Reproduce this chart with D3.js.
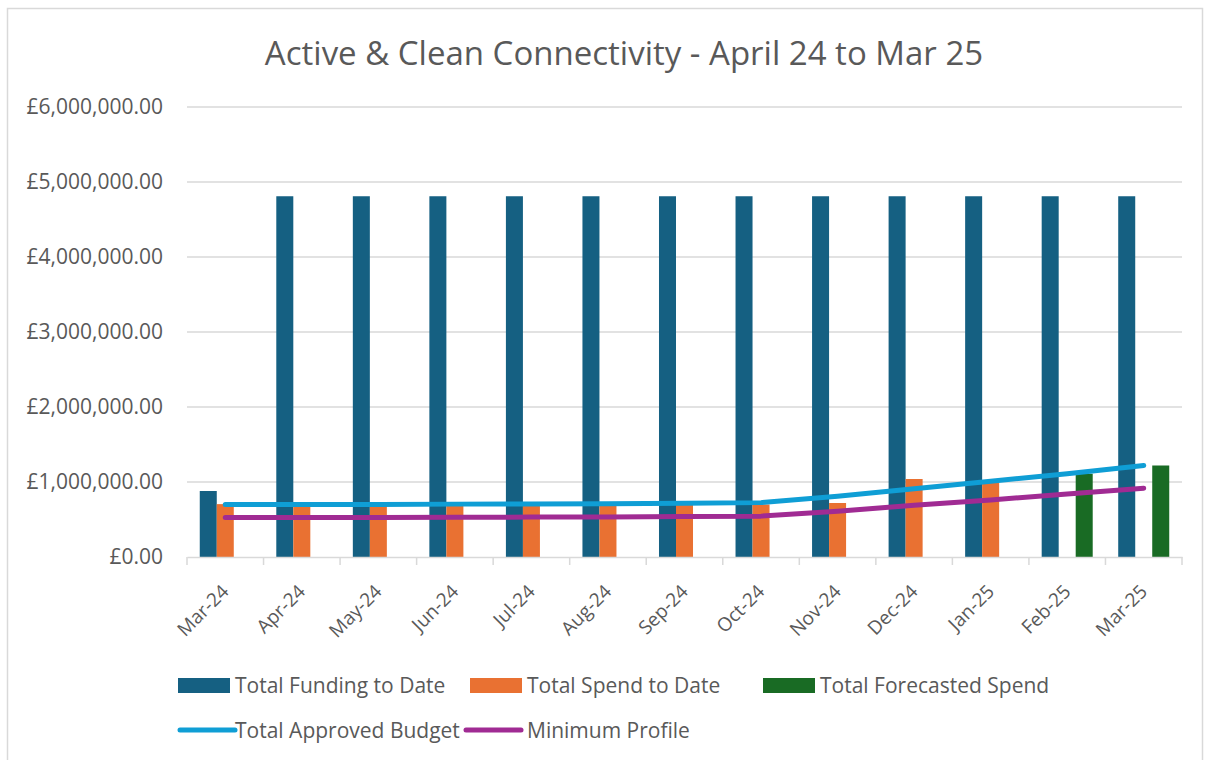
<!DOCTYPE html>
<html>
<head>
<meta charset="utf-8">
<script src="https://cdn.jsdelivr.net/npm/d3@7"></script>
<style>
  body { margin: 0; background: #fff; }
  text { font-family: "Open Sans", sans-serif; fill: #595959; }
</style>
</head>
<body>
<svg id="chart" width="1210" height="760"></svg>
<script>
// chart data
var months = ["Mar-24","Apr-24","May-24","Jun-24","Jul-24","Aug-24","Sep-24","Oct-24","Nov-24","Dec-24","Jan-25","Feb-25","Mar-25"];
var funding = [880000,4810000,4810000,4810000,4810000,4810000,4810000,4810000,4810000,4810000,4810000,4810000,4810000];
var spend = [705000,695000,695000,695000,695000,695000,700000,700000,720000,1040000,990000,null,null];
var forecast = [null,null,null,null,null,null,null,null,null,null,null,1110000,1220000];
var approved = [700000,700000,700000,705000,708000,710000,718000,725000,810000,910000,1010000,1110000,1220000];
var minProfile = [528000,528000,528000,530000,532000,535000,540000,545000,610000,690000,760000,840000,918000];
var yTicks = [0,1000000,2000000,3000000,4000000,5000000,6000000];

var barSeries = [
  {name: "Total Funding to Date", values: funding, color: "#156082"},
  {name: "Total Spend to Date", values: spend, color: "#E97132"},
  {name: "Total Forecasted Spend", values: forecast, color: "#196B24"}
];
var lineSeries = [
  {name: "Total Approved Budget", values: approved, color: "#0F9ED5"},
  {name: "Minimum Profile", values: minProfile, color: "#A02B93"}
];

var svg = d3.select("#chart");

// outer border
svg.append("rect")
  .attr("x", 7.5).attr("y", 8.5)
  .attr("width", 1195).attr("height", 770)
  .attr("fill", "none").attr("stroke", "#D9D9D9").attr("stroke-width", 1.5);

svg.append("text")
  .attr("x", 624).attr("y", 65)
  .attr("text-anchor", "middle")
  .style("font-size", "33px")
  .text("Active & Clean Connectivity - April 24 to Mar 25");

var plotLeft = 187, plotRight = 1182, plotTop = 107, plotBottom = 557;

var x = d3.scaleBand().domain(months).range([plotLeft, plotRight]).paddingInner(0).paddingOuter(0);
var xInner = d3.scaleBand().domain([0, 1, 2]).range([0, x.bandwidth()]).paddingOuter(0.75).paddingInner(0);
var y = d3.scaleLinear().domain([0, 6000000]).range([plotBottom, plotTop]);

// gridlines
svg.append("g").selectAll("line")
  .data(yTicks.slice(1))
  .enter().append("line")
  .attr("x1", plotLeft).attr("x2", plotRight)
  .attr("y1", d => y(d)).attr("y2", d => y(d))
  .attr("stroke", "#D9D9D9").attr("stroke-width", 1.5);

// y axis labels
var yAxis = d3.axisLeft(y).tickValues(yTicks).tickSize(0).tickPadding(24)
  .tickFormat(d => "£" + d3.format(",.2f")(d));
var yg = svg.append("g").attr("transform", "translate(" + plotLeft + ",0)").call(yAxis);
yg.select(".domain").remove();
yg.selectAll("text").style("font-size", "21px").attr("fill", "#595959");

// bars
barSeries.forEach(function (s, i) {
  svg.append("g").selectAll("rect")
    .data(months.map((m, j) => ({m: m, v: s.values[j]})).filter(d => d.v != null))
    .enter().append("rect")
    .attr("x", d => x(d.m) + xInner(i))
    .attr("width", xInner.bandwidth())
    .attr("y", d => y(d.v))
    .attr("height", d => plotBottom - y(d.v))
    .attr("fill", s.color);
});

// x axis
var xAxis = d3.axisBottom(x).tickSize(0).tickPadding(0);
var xg = svg.append("g").attr("transform", "translate(0," + plotBottom + ")").call(xAxis);
xg.select(".domain").attr("stroke", "#D9D9D9").attr("stroke-width", 1.5);
xg.selectAll(".tick text")
  .style("font-size", "19px")
  .attr("fill", "#595959")
  .attr("text-anchor", "end")
  .attr("y", 0)
  .attr("dy", "0.35em")
  .attr("transform", "translate(0,31) rotate(-45)");
// category boundary tick marks
xg.append("g").selectAll("line")
  .data(months.concat(["end"]))
  .enter().append("line")
  .attr("x1", (d, i) => plotLeft + i * x.bandwidth())
  .attr("x2", (d, i) => plotLeft + i * x.bandwidth())
  .attr("y1", 0).attr("y2", 8)
  .attr("stroke", "#D9D9D9").attr("stroke-width", 1.5);

// lines
var line = d3.line()
  .x((d, i) => x(months[i]) + x.bandwidth() / 2)
  .y(d => y(d));
lineSeries.forEach(function (s) {
  svg.append("path")
    .attr("d", line(s.values))
    .attr("fill", "none")
    .attr("stroke", s.color)
    .attr("stroke-width", 5)
    .attr("stroke-linecap", "round")
    .attr("stroke-linejoin", "round");
});

// legend
var legend = svg.append("g").style("font-size", "21px");
var barLegendX = [178, 470, 763];
barSeries.forEach(function (s, i) {
  legend.append("rect")
    .attr("x", barLegendX[i]).attr("y", 678)
    .attr("width", 52).attr("height", 15)
    .attr("fill", s.color);
  legend.append("text")
    .attr("x", barLegendX[i] + 57).attr("y", 693)
    .text(s.name);
});
var lineLegendX = [180, 466];
lineSeries.forEach(function (s, i) {
  legend.append("line")
    .attr("x1", lineLegendX[i]).attr("x2", lineLegendX[i] + 55)
    .attr("y1", 730).attr("y2", 730)
    .attr("stroke", s.color).attr("stroke-width", 5)
    .attr("stroke-linecap", "round");
  legend.append("text")
    .attr("x", lineLegendX[i] + 56 + (i ? 5 : 0) - (i ? 0 : 1)).attr("y", 738)
    .text(s.name);
});
</script>
</body>
</html>
